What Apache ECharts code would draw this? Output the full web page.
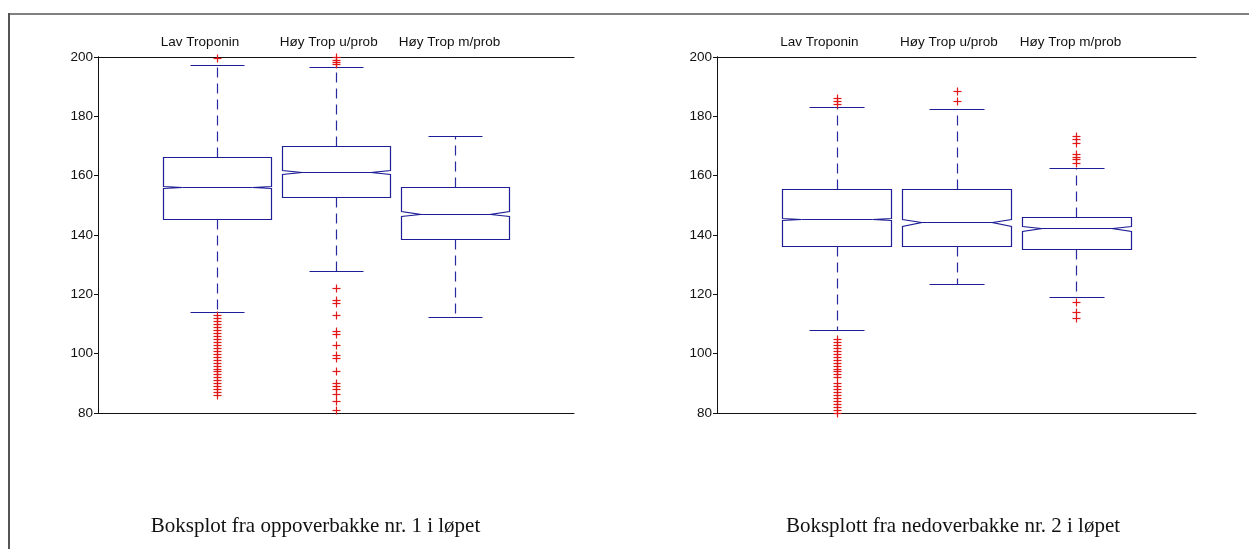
<!DOCTYPE html>
<html>
<head>
<meta charset="utf-8">
<script src="https://cdn.jsdelivr.net/npm/echarts@6/dist/echarts.min.js"></script>
<style>
  html, body { margin: 0; padding: 0; background: #fff; }
  #chart { width: 1249px; height: 549px; }
</style>
</head>
<body>
<div id="chart"></div>
<script>
// Heart-rate box plots for two hill sections of the race, split by troponin group.
const categories = ['Lav Troponin', 'Høy Trop u/prob', 'Høy Trop m/prob'];
const yTicks = [80, 100, 120, 140, 160, 180, 200];

// Per group: [lower whisker, Q1, median, Q3, upper whisker]
const uphillStats = [
  [114, 145.5, 156.3, 166.2, 197.3],
  [128, 152.9, 161.3, 170.1, 196.5],
  [112.2, 138.6, 147.2, 156.1, 173.4]
];
const uphillNotch = [0.3, 0.6, 0.9];
const uphillOutliers = [
  [199.5, 113, 112, 111, 110, 109, 108, 107, 106, 105, 104, 103, 102, 101, 100,
   99, 98, 97, 96, 95, 94, 93, 92, 91, 90, 89, 88, 87, 86],
  [197.5, 198.3, 199.1, 199.9, 122, 118, 117, 113, 107.5, 106.5, 103, 99.5, 98.5,
   94, 90, 89, 88, 86.5, 84, 81],
  []
];

const downhillStats = [
  [108, 136.3, 145.3, 155.4, 183.2],
  [123.4, 136.3, 144.3, 155.4, 182.5],
  [119.2, 135.2, 142.2, 146.2, 162.5]
];
const downhillNotch = [0.3, 1.2, 1.0];
const downhillOutliers = [
  [184.3, 185.3, 186.3, 105, 104, 103, 102, 101, 100, 99, 98, 97, 96, 95, 94, 93,
   92, 90, 89, 88, 87, 86, 85, 84, 83, 82, 81, 80],
  [185.3, 188.6],
  [164.4, 165.5, 166.4, 167.3, 171.1, 172.3, 173.4, 117.5, 114.1, 111.9]
];

const captions = [
  'Boksplot fra oppoverbakke nr. 1 i løpet',
  'Boksplott fra nedoverbakke nr. 2 i løpet'
];

// ---- styling ----
const BOX_COLOR = '#1e1e96';
const WHISKER_COLOR = '#2a2aa0';
const OUTLIER_COLOR = '#e01818';
const AXIS_COLOR = '#111';
const LABEL_FONT = '"Liberation Sans", Arial, sans-serif';
const LINE_W = 1.2;
const BOX_HALF = 0.455;
const CAP_HALF = 0.23;
const NOTCH_INSET = 0.16;
const PLUS_HALF = 4;

const crisp = p => [Math.round(p[0]) + 0.5, Math.round(p[1]) + 0.5];
const seg = (a, b) => ({ x1: a[0], y1: a[1], x2: b[0], y2: b[1] });

function lineEl(a, b, color, dash) {
  const style = { stroke: color, lineWidth: LINE_W };
  if (dash) style.lineDash = dash;
  return { type: 'line', shape: seg(a, b), style: style };
}

function renderBox(params, api) {
  const x = api.value(0);
  const low = api.value(1), q1 = api.value(2), med = api.value(3),
        q3 = api.value(4), high = api.value(5), n = api.value(6);
  const P = (dx, v) => crisp(api.coord([x + dx, v]));
  const h = BOX_HALF, k = NOTCH_INSET;
  const outline = [
    P(-h, q3), P(h, q3), P(h, med + n), P(h - k, med), P(h, med - n),
    P(h, q1), P(-h, q1), P(-h, med - n), P(-h + k, med), P(-h, med + n)
  ];
  return {
    type: 'group',
    children: [
      lineEl(P(0, q3), P(0, high), WHISKER_COLOR, [10, 6]),
      lineEl(P(0, q1), P(0, low), WHISKER_COLOR, [10, 6]),
      lineEl(P(-CAP_HALF, high), P(CAP_HALF, high), BOX_COLOR),
      lineEl(P(-CAP_HALF, low), P(CAP_HALF, low), BOX_COLOR),
      { type: 'polygon', shape: { points: outline },
        style: { fill: '#fff', stroke: BOX_COLOR, lineWidth: LINE_W } },
      lineEl(P(-h + k, med), P(h - k, med), BOX_COLOR)
    ]
  };
}

function renderOutlier(params, api) {
  const c = crisp(api.coord([api.value(0), api.value(1)]));
  return {
    type: 'group',
    children: [
      lineEl([c[0] - PLUS_HALF, c[1]], [c[0] + PLUS_HALF, c[1]], OUTLIER_COLOR),
      lineEl([c[0], c[1] - PLUS_HALF], [c[0], c[1] + PLUS_HALF], OUTLIER_COLOR)
    ]
  };
}

function renderCategory(params, api) {
  const x = api.value(0);
  const p = api.coord([x - BOX_HALF, yTicks[yTicks.length - 1]]);
  return {
    type: 'text',
    x: p[0] - 2,
    y: p[1] - 15,
    style: {
      text: categories[params.dataIndex],
      font: '13.5px ' + LABEL_FONT,
      fill: '#111',
      align: 'left', textAlign: 'left',
      verticalAlign: 'middle', textVerticalAlign: 'middle'
    }
  };
}

const boxData = (stats, notch) => stats.map((s, i) => [i + 1, ...s, notch[i]]);
const outlierData = groups => groups.flatMap((vals, i) => vals.map(v => [i + 1, v]));
const categoryData = categories.map((c, i) => [i + 1]);

const yMin = yTicks[0], yMax = yTicks[yTicks.length - 1], yStep = yTicks[1] - yTicks[0];

function xAxes(gridIndex) {
  const base = {
    gridIndex, type: 'value', min: 0, max: categories.length + 1,
    axisLine: { show: true, lineStyle: { color: AXIS_COLOR, width: 1 } },
    axisTick: { show: false }, axisLabel: { show: false }, splitLine: { show: false }
  };
  return [Object.assign({ position: 'bottom' }, base), Object.assign({ position: 'top' }, base)];
}

function yAxes(gridIndex) {
  const base = {
    gridIndex, type: 'value', min: yMin, max: yMax, interval: yStep,
    axisLine: { show: true, lineStyle: { color: AXIS_COLOR, width: 1 } },
    splitLine: { show: false }
  };
  return [
    Object.assign({
      position: 'left',
      axisTick: { show: true, inside: false, length: 4, lineStyle: { color: AXIS_COLOR } },
      axisLabel: { show: true, margin: 5, fontSize: 13.5, fontFamily: LABEL_FONT, color: '#111' }
    }, base),
    Object.assign({
      position: 'right',
      axisTick: { show: true, inside: true, length: 4, lineStyle: { color: AXIS_COLOR } },
      axisLabel: { show: false }
    }, base)
  ];
}

function panelSeries(axisIndex, stats, notch, outliers) {
  return [
    { type: 'custom', xAxisIndex: axisIndex, yAxisIndex: axisIndex, renderItem: renderBox,
      data: boxData(stats, notch), clip: false, silent: true, z: 2 },
    { type: 'custom', xAxisIndex: axisIndex, yAxisIndex: axisIndex, renderItem: renderOutlier,
      data: outlierData(outliers), clip: false, silent: true, z: 3 },
    { type: 'custom', xAxisIndex: axisIndex, yAxisIndex: axisIndex, renderItem: renderCategory,
      data: categoryData, clip: false, silent: true, z: 3 }
  ];
}

const chart = echarts.init(document.getElementById('chart'), null, { renderer: 'canvas' });
chart.setOption({
  animation: false,
  backgroundColor: '#fff',
  grid: [
    { left: 98, top: 57, width: 476, height: 356 },
    { left: 717, top: 57, width: 479, height: 356 }
  ],
  xAxis: [...xAxes(0), ...xAxes(1)],
  yAxis: [...yAxes(0), ...yAxes(1)],
  series: [
    ...panelSeries(0, uphillStats, uphillNotch, uphillOutliers),
    ...panelSeries(2, downhillStats, downhillNotch, downhillOutliers)
  ],
  graphic: [
    { type: 'line', shape: { x1: 9, y1: 14, x2: 1249, y2: 14 },
      style: { stroke: '#808080', lineWidth: 2 }, silent: true },
    { type: 'line', shape: { x1: 9, y1: 13, x2: 9, y2: 549 },
      style: { stroke: '#555', lineWidth: 2 }, silent: true },
    { type: 'text', x: 315.5, y: 526,
      style: { text: captions[0], font: '21px "Liberation Serif", "Times New Roman", serif',
               fill: '#111', align: 'center', textAlign: 'center',
               verticalAlign: 'middle', textVerticalAlign: 'middle' }, silent: true },
    { type: 'text', x: 953, y: 526,
      style: { text: captions[1], font: '21px "Liberation Serif", "Times New Roman", serif',
               fill: '#111', align: 'center', textAlign: 'center',
               verticalAlign: 'middle', textVerticalAlign: 'middle' }, silent: true }
  ]
});
</script>
</body>
</html>
